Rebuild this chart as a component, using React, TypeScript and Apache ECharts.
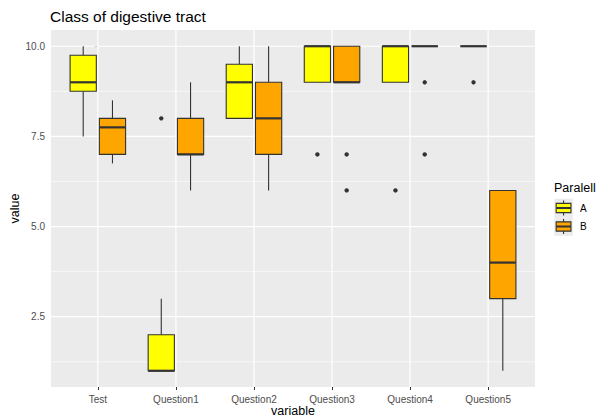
import React, { useEffect, useRef } from 'react';
import * as echarts from 'echarts';

const categories = ['Test', 'Question1', 'Question2', 'Question3', 'Question4', 'Question5'];
const groups = ['A', 'B'];
// [min, Q1, median, Q3, max] per category
const statsA = [
  [7.5, 8.75, 9, 9.75, 10],
  [1, 1, 1, 2, 3],
  [8, 8, 9, 9.5, 10],
  [9, 9, 10, 10, 10],
  [9, 9, 10, 10, 10],
  [10, 10, 10, 10, 10],
];
const statsB = [
  [6.75, 7, 7.75, 8, 8.5],
  [6, 7, 7, 8, 9],
  [6, 7, 8, 9, 10],
  [9, 9, 9, 10, 10],
  [10, 10, 10, 10, 10],
  [1, 3, 4, 6, 6],
];
// [category index, value]
const outliersA = [[1, 8], [3, 7], [4, 6], [5, 9]];
const outliersB = [[3, 7], [3, 6], [4, 9], [4, 7]];
const yTicks = [2.5, 5, 7.5, 10];
const yMinorTicks = [1.25, 3.75, 6.25, 8.75];
const xTicks = categories.map((_, i) => i);
const fills = ['#FFFF00', '#FFA500'];

const FONT = '"Liberation Sans", Arial, sans-serif';
const DODGE = 0.1875;
const HALF = 0.168;
const INK = '#333333';

function boxRender(offset: number, fill: string) {
  return (params: any, api: any) => {
    const c = api.value(0);
    const mn = api.value(1), q1 = api.value(2), md = api.value(3), q3 = api.value(4), mx = api.value(5);
    const xc = api.coord([c + offset, md])[0];
    const xl = api.coord([c + offset - HALF, md])[0];
    const xr = api.coord([c + offset + HALF, md])[0];
    const y = (v: number) => api.coord([c, v])[1];
    const children: any[] = [];
    if (mx > q3) children.push({ type: 'line', shape: { x1: xc, y1: y(q3), x2: xc, y2: y(mx) }, style: { stroke: INK, lineWidth: 1.1 } });
    if (mn < q1) children.push({ type: 'line', shape: { x1: xc, y1: y(q1), x2: xc, y2: y(mn) }, style: { stroke: INK, lineWidth: 1.1 } });
    children.push({ type: 'rect', shape: { x: xl, y: y(q3), width: xr - xl, height: y(q1) - y(q3) }, style: { fill, stroke: INK, lineWidth: 1.1 } });
    children.push({ type: 'line', shape: { x1: xl, y1: y(md), x2: xr, y2: y(md) }, style: { stroke: INK, lineWidth: 2.2 } });
    return { type: 'group', children };
  };
}

function outlierRender(offset: number) {
  return (params: any, api: any) => {
    const p = api.coord([api.value(0) + offset, api.value(1)]);
    return { type: 'circle', shape: { cx: p[0], cy: p[1], r: 2.2 }, style: { fill: INK } };
  };
}

function legendKey(cy: number, fill: string) {
  const x0 = 554.3, size = 18.5;
  const cx = x0 + size / 2;
  const top = cy - size / 2;
  return [
    { type: 'rect', shape: { x: x0, y: top, width: size, height: size }, style: { fill: '#EBEBEB' } },
    { type: 'line', shape: { x1: cx, y1: top + size * 0.1, x2: cx, y2: top + size * 0.9 }, style: { stroke: INK, lineWidth: 1.1 } },
    { type: 'rect', shape: { x: x0 + size * 0.1, y: top + size * 0.25, width: size * 0.8, height: size * 0.5 }, style: { fill, stroke: INK, lineWidth: 1.1 } },
    { type: 'line', shape: { x1: x0 + size * 0.1, y1: cy, x2: x0 + size * 0.9, y2: cy }, style: { stroke: INK, lineWidth: 2 } },
  ];
}

export default function App() {
  const ref = useRef<HTMLDivElement>(null);
  useEffect(() => {
    if (!ref.current) return;
    const chart = echarts.init(ref.current, null, { renderer: 'svg' });
    const gridData = [
      ...yTicks.map((v) => [0, v, 1]),
      ...yMinorTicks.map((v) => [0, v, 0]),
    ];
    const vData = xTicks.map((i) => [i, 5]);
    chart.setOption({
      animation: false,
      title: {
        text: 'Class of digestive tract', left: 50, top: 8.5, padding: 0,
        textStyle: { fontSize: 15.5, fontWeight: 'normal', fontFamily: FONT, color: '#000000' },
      },
      grid: { left: 51, right: 62, top: 30, bottom: 30, show: true, backgroundColor: '#EBEBEB', borderWidth: 0 },
      xAxis: {
        type: 'value', min: -0.6, max: 5.6,
        splitLine: { show: false },
        axisLine: { show: false },
        axisTick: { show: true, customValues: xTicks, length: 3, lineStyle: { color: INK, width: 1 } },
        axisLabel: { customValues: xTicks, color: '#4D4D4D', fontSize: 10, fontFamily: FONT, margin: 7, formatter: (v: number) => categories[Math.round(v)] },
      },
      yAxis: {
        type: 'value', min: 0.55, max: 10.45,
        splitLine: { show: false },
        axisLine: { show: false },
        axisTick: { show: true, customValues: yTicks, length: 3, lineStyle: { color: INK, width: 1 } },
        axisLabel: { customValues: yTicks, color: '#4D4D4D', fontSize: 10, fontFamily: FONT, margin: 6, formatter: (v: number) => v.toFixed(1) },
      },
      series: [
        {
          type: 'custom', z: 1, silent: true, data: gridData,
          renderItem: (params: any, api: any) => {
            const cs = params.coordSys;
            const y = api.coord([0, api.value(1)])[1];
            const major = api.value(2) === 1;
            return { type: 'line', shape: { x1: cs.x, y1: y, x2: cs.x + cs.width, y2: y }, style: { stroke: '#FFFFFF', lineWidth: major ? 1.2 : 0.6 } };
          },
        },
        {
          type: 'custom', z: 1, silent: true, data: vData,
          renderItem: (params: any, api: any) => {
            const cs = params.coordSys;
            const x = api.coord([api.value(0), 5])[0];
            return { type: 'line', shape: { x1: x, y1: cs.y, x2: x, y2: cs.y + cs.height }, style: { stroke: '#FFFFFF', lineWidth: 1.2 } };
          },
        },
        { type: 'custom', name: groups[0], z: 2, data: statsA.map((s, i) => [i, ...s]), renderItem: boxRender(-DODGE, fills[0]) },
        { type: 'custom', name: groups[1], z: 2, data: statsB.map((s, i) => [i, ...s]), renderItem: boxRender(DODGE, fills[1]) },
        { type: 'custom', z: 3, data: outliersA, renderItem: outlierRender(-DODGE) },
        { type: 'custom', z: 3, data: outliersB, renderItem: outlierRender(DODGE) },
      ],
      graphic: [
        { type: 'text', x: 14.5, y: 208.5, rotation: Math.PI / 2, style: { text: 'value', fontSize: 12.5, fontFamily: FONT, fill: '#000000', align: 'center', verticalAlign: 'middle' } },
        { type: 'text', x: 293, y: 410.5, style: { text: 'variable', fontSize: 12.5, fontFamily: FONT, fill: '#000000', align: 'center', verticalAlign: 'middle' } },
        { type: 'text', x: 554, y: 188, style: { text: 'Paralell', fontSize: 12.5, fontFamily: FONT, fill: '#000000', align: 'left', verticalAlign: 'middle' } },
        ...legendKey(208, fills[0]),
        ...legendKey(226.5, fills[1]),
        { type: 'text', x: 580, y: 208, style: { text: groups[0], fontSize: 10, fontFamily: FONT, fill: '#000000', align: 'left', verticalAlign: 'middle' } },
        { type: 'text', x: 580, y: 226.5, style: { text: groups[1], fontSize: 10, fontFamily: FONT, fill: '#000000', align: 'left', verticalAlign: 'middle' } },
      ],
    });
    return () => chart.dispose();
  }, []);
  return <div ref={ref} style={{ width: 597, height: 417, position: 'absolute', left: 0, top: 0 }} />;
}
